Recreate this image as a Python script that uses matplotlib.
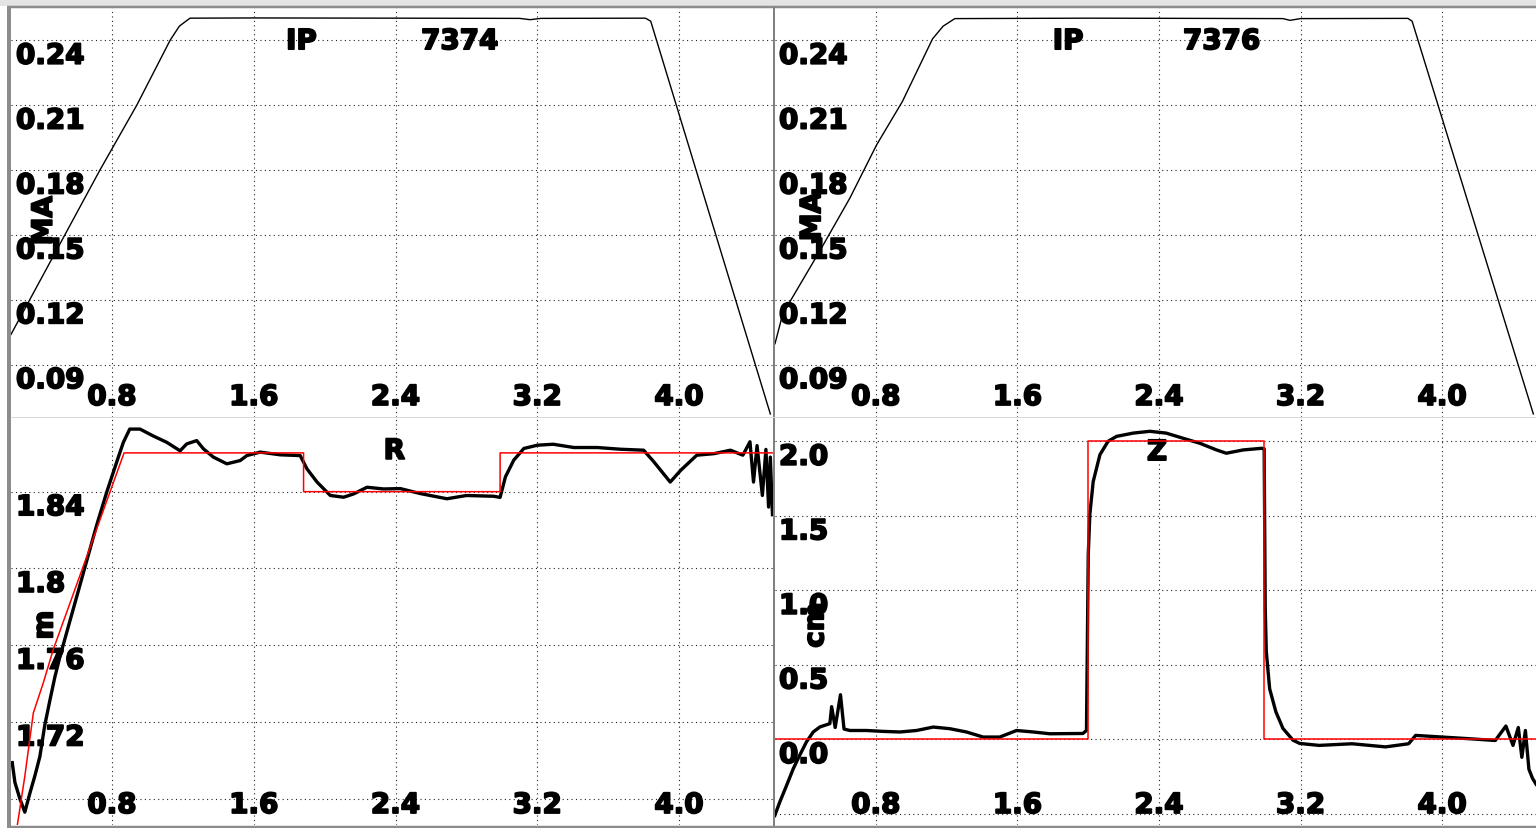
"""Shot overview panels: plasma current IP for shots 7374/7376 with the
R and Z position traces (black) against their programmed references (red)."""

import matplotlib

matplotlib.use("Agg")
import matplotlib.patheffects as pe
import matplotlib.pyplot as plt
from matplotlib.lines import Line2D
from matplotlib.patches import Rectangle

W, H = 1536, 829

# --- data -------------------------------------------------------------------
ip_7374_t = [0.23, 0.732, 0.94, 1.128, 1.18, 1.24, 1.6, 2.4, 3.1, 3.16, 3.22, 3.81, 3.84, 4.515]
ip_7374_v = [0.104, 0.18, 0.21, 0.24, 0.2465, 0.2502, 0.2503, 0.2502, 0.2501, 0.2495, 0.2501,
             0.2502, 0.2488, 0.0672]

ip_7376_t = [0.23, 0.274, 0.484, 0.653, 0.804, 0.95, 1.12, 1.18, 1.246, 2.0, 2.6, 3.1, 3.14,
             3.2, 3.806, 3.83, 4.515]
ip_7376_v = [0.0997, 0.1135, 0.1427, 0.167, 0.1916, 0.2117, 0.2406, 0.2465, 0.2500, 0.2502,
             0.2501, 0.2500, 0.2492, 0.2500, 0.2501, 0.2488, 0.0672]

r_t = [0.237, 0.252, 0.28, 0.308, 0.337, 0.365, 0.393, 0.42, 0.45, 0.478, 0.506, 0.6, 0.713,
       0.77, 0.826, 0.864, 0.90, 0.958, 1.033, 1.109, 1.184, 1.222, 1.278, 1.316, 1.372,
       1.448, 1.523, 1.561, 1.636, 1.749, 1.862, 1.90, 1.957, 2.032, 2.107, 2.163, 2.239,
       2.333, 2.427, 2.54, 2.69, 2.80, 2.954, 2.99, 3.02, 3.067, 3.124, 3.2, 3.29, 3.406,
       3.538, 3.67, 3.80, 3.858, 3.95, 4.01, 4.10, 4.197, 4.29, 4.36, 4.40, 4.42, 4.44,
       4.47, 4.49, 4.505, 4.515, 4.527]
r_v = [1.6988, 1.6885, 1.68, 1.673, 1.683, 1.692, 1.702, 1.718, 1.7315, 1.7436, 1.754, 1.785,
       1.8224, 1.8397, 1.8553, 1.8657, 1.8726, 1.8726, 1.869, 1.8657, 1.8613, 1.8649, 1.8666,
       1.8623, 1.858, 1.8545, 1.8562, 1.8588, 1.8606, 1.8592, 1.8588, 1.8519, 1.845, 1.838,
       1.8371, 1.8388, 1.8423, 1.8414, 1.8416, 1.839, 1.8363, 1.838, 1.8376, 1.837, 1.8477,
       1.8564, 1.8625, 1.8642, 1.8647, 1.863, 1.863, 1.8621, 1.8616, 1.8555, 1.845, 1.8512,
       1.859, 1.8598, 1.8616, 1.8590, 1.866, 1.845, 1.864, 1.838, 1.862, 1.832, 1.858, 1.828]

r_ref_t = [0.263, 0.308, 0.356, 0.412, 0.468, 0.868, 1.881, 1.881, 2.99, 2.99, 4.53]
r_ref_v = [1.6646, 1.6917, 1.7247, 1.7403, 1.7576, 1.8602, 1.8602, 1.84, 1.84, 1.8602, 1.8602]

z_t = [0.229, 0.257, 0.295, 0.333, 0.37, 0.408, 0.446, 0.484, 0.54, 0.55, 0.57, 0.60, 0.62,
       0.653, 0.747, 0.84, 0.936, 1.03, 1.124, 1.218, 1.312, 1.406, 1.5, 1.595, 1.689, 1.783,
       1.97, 1.99, 2.0, 2.009, 2.028, 2.066, 2.112, 2.16, 2.254, 2.348, 2.44, 2.537, 2.63,
       2.725, 2.78, 2.875, 2.979, 2.994, 3.0, 3.006, 3.025, 3.06, 3.1, 3.157, 3.195, 3.305,
       3.49, 3.68, 3.81, 3.85, 4.0, 4.15, 4.30, 4.36, 4.40, 4.43, 4.45, 4.47, 4.49, 4.51, 4.53]
z_v = [-0.51, -0.42, -0.31, -0.197, -0.105, -0.016, 0.05, 0.084, 0.106, 0.22, 0.08, 0.30, 0.07,
       0.06, 0.06, 0.054, 0.05, 0.06, 0.083, 0.072, 0.05, 0.016, 0.016, 0.06, 0.05, 0.038,
       0.04, 0.06, 1.24, 1.51, 1.73, 1.91, 2.0, 2.033, 2.055, 2.067, 2.055, 2.02, 1.987,
       1.942, 1.92, 1.942, 1.953, 1.95, 0.88, 0.59, 0.34, 0.186, 0.074, -0.005, -0.027, -0.04,
       -0.029, -0.05, -0.029, 0.027, 0.016, 0.005, -0.007, 0.09, -0.04, 0.08, -0.12, 0.06,
       -0.20, -0.26, -0.30]

z_ref_t = [0.23, 2.0, 2.0, 2.994, 2.994, 4.53]
z_ref_v = [0.0, 0.0, 2.0, 2.0, 0.0, 0.0]

time_ticks = [0.8, 1.6, 2.4, 3.2, 4.0]
time_labels = ["0.8", "1.6", "2.4", "3.2", "4.0"]
ip_ticks = [0.09, 0.12, 0.15, 0.18, 0.21, 0.24]
ip_labels = ["0.09", "0.12", "0.15", "0.18", "0.21", "0.24"]
r_ticks = [1.68, 1.72, 1.76, 1.80, 1.84]
r_labels = ["1.72", "1.76", "1.8", "1.84"]
z_ticks = [-0.5, 0.0, 0.5, 1.0, 1.5, 2.0]
z_labels = ["0.0", "0.5", "1.0", "1.5", "2.0"]

# --- layout -----------------------------------------------------------------
# heavy, slightly widened lettering: bold face plus a thin outline stroke
HEAVY = [pe.withStroke(linewidth=1.3, foreground="black")]
FONT = dict(family="DejaVu Sans", fontweight="bold", fontsize=20, color="black",
            zorder=1.5, path_effects=HEAVY)
PT = 0.72  # points per pixel at dpi=100


def px_rect(x0, y0, x1, y1):
    return [x0 / W, 1 - y1 / H, (x1 - x0) / W, (y1 - y0) / H]


def panel(rect, ylim, yticks, ylabels, label_pos, ylabel):
    ax = fig.add_axes(px_rect(*rect))
    ax.set_xlim(0.23, 4.53)
    ax.set_ylim(*ylim)
    ax.set_xticks(time_ticks)
    ax.set_yticks(yticks)
    ax.tick_params(length=0, labelbottom=False, labelleft=False)
    ax.set_axisbelow(True)
    ax.grid(True, color="#222222", linewidth=0.8, linestyle=(0, (1, 3)))
    for s in ax.spines.values():
        s.set_visible(False)

    # tick labels sit inside the plot area: y labels under their gridline,
    # time labels in a row just above the bottom edge
    shown = yticks[-len(ylabels):]
    for v, s in zip(shown, ylabels):
        ax.annotate(s, xy=(0, v), xycoords=("axes fraction", "data"),
                    xytext=(label_pos * PT, -1.5 * PT), textcoords="offset points",
                    ha="left", va="top", **FONT)
    for v, s in zip(time_ticks, time_labels):
        ax.annotate(s, xy=(v, 0), xycoords=("data", "axes fraction"),
                    xytext=(0, 20 * PT), textcoords="offset points",
                    ha="center", va="center", **FONT)
    ax.text(ylabel[0], ylabel[1], ylabel[2], transform=ax.transAxes, rotation=90,
            ha="center", va="center", **FONT)
    return ax


fig = plt.figure(figsize=(W / 100, H / 100), dpi=100)
fig.patch.set_facecolor("white")

ax_ip1 = panel((11, 9, 773, 418), (0.0658, 0.2549), ip_ticks, ip_labels, 5, (0.043, 0.48, "MA"))
ax_ip2 = panel((775, 9, 1536, 418), (0.0658, 0.2549), ip_ticks, ip_labels, 4, (0.049, 0.49, "MA"))
ax_r = panel((11, 418, 773, 826), (1.6663, 1.8789), r_ticks, r_labels, 5, (0.044, 0.49, "m"))
ax_z = panel((775, 418, 1536, 826), (-0.574, 2.163), z_ticks, z_labels, 4, (0.053, 0.49, "cm"))

ax_ip1.plot(ip_7374_t, ip_7374_v, color="black", linewidth=1.0, zorder=3)
ax_ip2.plot(ip_7376_t, ip_7376_v, color="black", linewidth=1.0, zorder=3)
ax_r.plot(r_t, r_v, color="black", linewidth=2.4, zorder=3)
ax_r.plot(r_ref_t, r_ref_v, color="#ff0000", linewidth=1.1, zorder=4)
ax_z.plot(z_t, z_v, color="black", linewidth=2.4, zorder=3)
ax_z.plot(z_ref_t, z_ref_v, color="#ff0000", linewidth=1.1, zorder=4)

ax_ip1.text(0.381, 0.919, "IP", transform=ax_ip1.transAxes, ha="center", va="center", **FONT)
ax_ip1.text(0.589, 0.919, "7374", transform=ax_ip1.transAxes, ha="center", va="center", **FONT)
ax_ip2.text(0.385, 0.919, "IP", transform=ax_ip2.transAxes, ha="center", va="center", **FONT)
ax_ip2.text(0.587, 0.919, "7376", transform=ax_ip2.transAxes, ha="center", va="center", **FONT)
ax_r.text(0.503, 0.917, "R", transform=ax_r.transAxes, ha="center", va="center", **FONT)
ax_z.text(0.502, 0.914, "Z", transform=ax_z.transAxes, ha="center", va="center", **FONT)


# window frame around the four panels
def fig_line(x0, y0, x1, y1, color, width_px):
    fig.add_artist(Line2D([x0 / W, x1 / W], [1 - y0 / H, 1 - y1 / H],
                          transform=fig.transFigure, color=color,
                          linewidth=width_px * PT, solid_capstyle="butt"))


fig.add_artist(Rectangle((0, 1 - 7 / H), 1, 7 / H, transform=fig.transFigure,
                         facecolor="#e4e4e4", edgecolor="none"))
fig_line(7, 7.5, W, 7.5, "#8c8c8c", 2.5)
fig_line(9, 7, 9, H, "#8c8c8c", 4)
fig_line(774, 8, 774, H, "#808080", 2)
fig_line(11, 418, W, 418, "#d8d8d8", 1)
fig_line(9, 827.5, W, 827.5, "#8c8c8c", 2.5)

fig.savefig("out.png", dpi=100)
plt.close(fig)
